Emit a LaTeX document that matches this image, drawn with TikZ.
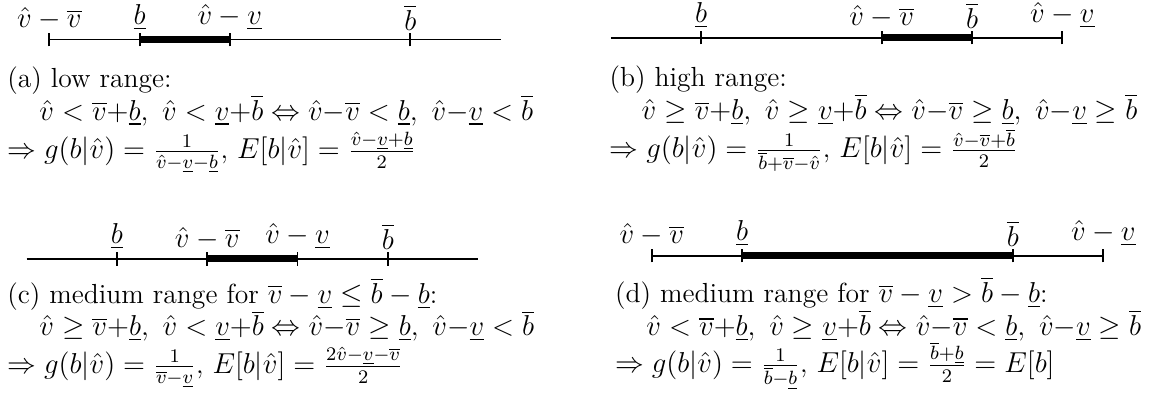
\documentclass[tikz,border=0pt]{standalone}
\usepackage{amsmath,amssymb}
\usepackage{tikz}
\usetikzlibrary{positioning}
\newcommand{\vHat}{\hat{v}}
\newcommand{\vUp}{\overline{v}}
\newcommand{\vLo}{\underline{v}}
\newcommand{\bUp}{\overline{b}}
\newcommand{\bLo}{\underline{b}}
\tikzset{axisline/.style={line width=.8pt}, rangebar/.style={line width=2.8pt}, tickmark/.style={line width=.8pt}, ticklabel/.style={font=\fontsize{12.3}{15}\selectfont,anchor=south,inner sep=.8pt}, caption/.style={font=\fontsize{11.5}{13.8}\selectfont,anchor=base west,inner sep=0pt}}

\begin{document}
\begin{tikzpicture}
\useasboundingbox (0,0) rectangle (16.87,5.8);
% (a) low range
\begin{scope}[shift={(0.722cm,5.222cm)},x=1.322cm]
\draw[axisline] (0,0)--(5,0);
\draw[rangebar] (1,0)--(2,0);
\foreach \t/\lab in {0/\vHat-\vUp,1/\bLo,2/\vHat-\vLo,4/\bUp} {
 \draw[tickmark] (\t,-.1)--(\t,.1);
 \node[ticklabel] (a\t) at (\t,.1) {$\lab$};
}
\end{scope}
\node[caption] (capa) at (0.1,4.52) {(a) low range:};
\node[caption] (conda) at (0.57,4.04) {$\vHat<\vUp{+}\bLo,\ \vHat<\vLo{+}\bUp\Leftrightarrow\vHat{-}\vUp<\bLo,\ \vHat{-}\vLo<\bUp$};
\node[caption] (resa) at (0.1,3.48) {$\Rightarrow g(b|\vHat)=\frac{1}{\vHat-\vLo-\bLo}$, $E[b|\vHat]=\frac{\vHat-\vLo+\bLo}{2}$};
% (b) high range
\begin{scope}[shift={(8.946cm,5.25cm)},x=1.322cm]
\draw[axisline] (0,0)--(5,0);
\draw[rangebar] (3,0)--(4,0);
\foreach \t/\lab in {1/\bLo,3/\vHat-\vUp,4/\bUp,5/\vHat-\vLo} {
 \draw[tickmark] (\t,-.1)--(\t,.1);
 \node[ticklabel] (b\t) at (\t,.1) {$\lab$};
}
\end{scope}
\node[caption] (capb) at (8.92,4.53) {(b) high range:};
\node[caption] (condb) at (9.39,4.05) {$\vHat\geq\vUp{+}\bLo,\ \vHat\geq\vLo{+}\bUp\Leftrightarrow\vHat{-}\vUp\geq\bLo,\ \vHat{-}\vLo\geq\bUp$};
\node[caption] (resb) at (8.92,3.49) {$\Rightarrow g(b|\vHat)=\frac{1}{\bUp+\vUp-\vHat}$, $E[b|\vHat]=\frac{\vHat-\vUp+\bUp}{2}$};
% (c) medium range, narrow
\begin{scope}[shift={(0.391cm,2.010cm)},x=1.322cm]
\draw[axisline] (0,0)--(5,0);
\draw[rangebar] (2,0)--(3,0);
\foreach \t/\lab in {1/\bLo,2/\vHat-\vUp,3/\vHat-\vLo,4/\bUp} {
 \draw[tickmark] (\t,-.1)--(\t,.1);
 \node[ticklabel] (c\t) at (\t,.1) {$\lab$};
}
\end{scope}
\node[caption] (capc) at (0.1,1.36) {(c) medium range for $\vUp-\vLo\leq\bUp-\bLo$:};
\node[caption] (condc) at (0.57,0.88) {$\vHat\geq\vUp{+}\bLo,\ \vHat<\vLo{+}\bUp\Leftrightarrow\vHat{-}\vUp\geq\bLo,\ \vHat{-}\vLo<\bUp$};
\node[caption] (resc) at (0.1,0.33) {$\Rightarrow g(b|\vHat)=\frac{1}{\vUp-\vLo}$, $E[b|\vHat]=\frac{2\vHat-\vLo-\vUp}{2}$};
% (d) medium range, wide
\begin{scope}[shift={(9.546cm,2.057cm)},x=1.322cm]
\draw[axisline] (0,0)--(5,0);
\draw[rangebar] (1,0)--(4,0);
\foreach \t/\lab in {0/\vHat-\vUp,1/\bLo,4/\bUp,5/\vHat-\vLo} {
 \draw[tickmark] (\t,-.1)--(\t,.1);
 \node[ticklabel] (d\t) at (\t,.1) {$\lab$};
}
\end{scope}
\node[caption] (capd) at (9.0,1.37) {(d) medium range for $\vUp-\vLo>\bUp-\bLo$:};
\node[caption] (condd) at (9.46,0.89) {$\vHat<\vUp{+}\bLo,\ \vHat\geq\vLo{+}\bUp\Leftrightarrow\vHat{-}\vUp<\bLo,\ \vHat{-}\vLo\geq\bUp$};
\node[caption] (resd) at (9.0,0.34) {$\Rightarrow g(b|\vHat)=\frac{1}{\bUp-\bLo}$, $E[b|\vHat]=\frac{\bUp+\bLo}{2}=E[b]$};
\end{tikzpicture}
\end{document}
